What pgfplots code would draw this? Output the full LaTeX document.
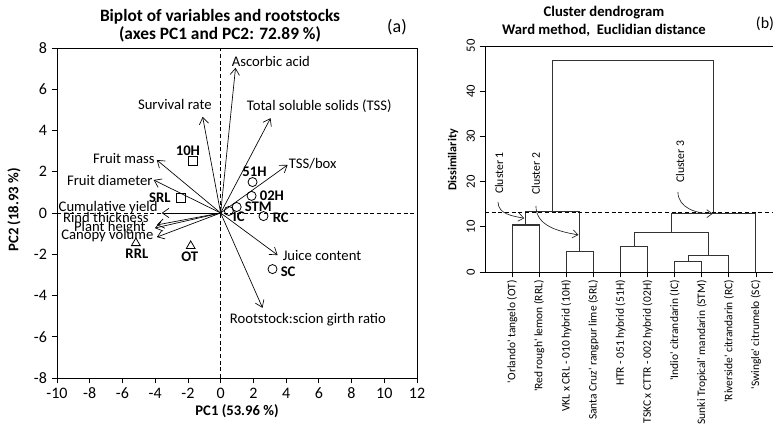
\documentclass[border=0pt]{standalone}
\usepackage{fontspec}
\setmainfont{Carlito}
\usepackage{pgfplots}
\pgfplotsset{compat=1.18}
\usetikzlibrary{arrows.meta}
\newcommand\fs[1]{\fontsize{#1}{#1}\selectfont}
\newcommand\q{\textquotesingle}
\tikzset{
  arr/.style={black, line width=0.5pt, -{Straight Barb[length=5pt,width=7pt]}},
  lab/.style={font=\fs{11}, inner sep=0pt},
  plab/.style={font=\bfseries\fs{11}, inner sep=0pt},
  dend/.style={black!80, line width=0.8pt, mark=none},
  carr/.style={black!85, line width=0.5pt, -{Straight Barb[length=4pt,width=6pt]}}}
\begin{document}
\begin{tikzpicture}
\path[use as bounding box] (0,0) rectangle (579.75pt,320.25pt);
% ---------------- Left panel: biplot ----------------
\begin{axis}[at={(42.75pt,36.75pt)}, anchor=south west,
  width=270pt, height=247.5pt, scale only axis,
  xmin=-10, xmax=12, ymin=-8, ymax=8,
  xtick={-10,-8,...,12}, ytick={-8,-6,...,8},
  tick align=outside, xtick pos=bottom, ytick pos=left, major tick length=4pt,
  /pgf/number format/assume math mode=true,
  tick label style={font=\fs{12}},
  axis line style={black, line width=0.6pt}, tick style={black, line width=0.6pt},
  clip=false]
\addplot[densely dashed, black, line width=0.5pt] coordinates {(0,-8) (0,8)};
\addplot[densely dashed, black, line width=0.5pt] coordinates {(-10,0) (12,0)};
% variable vectors
\addplot[arr] coordinates {(0,0) (0.91,7.04)};
\addplot[arr] coordinates {(0,0) (3.05,4.60)};
\addplot[arr] coordinates {(0,0) (4.09,2.33)};
\addplot[arr] coordinates {(0,0) (3.48,-2.04)};
\addplot[arr] coordinates {(0,0) (2.56,-4.60)};
\addplot[arr] coordinates {(0,0) (-1.10,4.66)};
\addplot[arr] coordinates {(0,0) (-3.90,2.57)};
\addplot[arr] coordinates {(0,0) (-4.09,1.60)};
\addplot[arr] coordinates {(0,0) (-3.60,0.00)};
\addplot[arr] coordinates {(0,0) (-3.90,-0.58)};
\addplot[arr] coordinates {(0,0) (-4.02,-0.73)};
\addplot[arr] coordinates {(0,0) (-3.90,-1.17)};
% rootstocks
\addplot[only marks, mark=square, mark size=3.4pt, black, line width=0.6pt] coordinates {(-1.70,2.52) (-2.44,0.73)};
\addplot[only marks, mark=triangle, mark size=3.8pt, black, line width=0.6pt] coordinates {(-5.18,-1.46) (-1.83,-1.60)};
\addplot[only marks, mark=o, mark size=3.4pt, black, line width=0.6pt] coordinates {(1.95,1.50) (1.89,0.83) (0.98,0.29) (0.50,0.10) (2.62,-0.15) (3.17,-2.72)};
% vector labels
\node[lab, anchor=west] at (axis cs:0.67,7.33) {Ascorbic acid};
\node[lab, anchor=west] at (axis cs:1.59,5.19) {Total soluble solids (TSS)};
\node[lab, anchor=west] at (axis cs:4.15,2.38) {TSS/box};
\node[lab, anchor=west] at (axis cs:3.78,-2.04) {Juice content};
\node[lab, anchor=west] at (axis cs:0.55,-5.15) {Rootstock:scion girth ratio};
\node[lab] at (axis cs:-2.80,5.24) {Survival rate};
\node[lab, anchor=east] at (axis cs:-4.02,2.62) {Fruit mass};
\node[lab, anchor=east] at (axis cs:-4.15,1.60) {Fruit diameter};
\node[lab, anchor=east] at (axis cs:-3.84,0.24) {Cumulative yield};
\node[lab, anchor=east] at (axis cs:-4.39,-0.24) {Rind thickness};
\node[lab, anchor=east] at (axis cs:-4.57,-0.73) {Plant height};
\node[lab, anchor=east] at (axis cs:-4.09,-1.12) {Canopy volume};
% rootstock labels
\node[plab] at (axis cs:-2.00,3.00) {10H};
\node[plab] at (axis cs:-3.72,0.73) {SRL};
\node[plab] at (axis cs:-5.12,-1.99) {RRL};
\node[plab] at (axis cs:-1.89,-2.14) {OT};
\node[plab] at (axis cs:2.07,1.99) {51H};
\node[plab, anchor=west] at (axis cs:2.38,0.83) {02H};
\node[plab, anchor=west] at (axis cs:1.46,0.29) {STM};
\node[plab, anchor=west] at (axis cs:0.73,-0.19) {IC};
\node[plab, anchor=west] at (axis cs:3.17,-0.24) {RC};
\node[plab, anchor=west] at (axis cs:3.66,-2.86) {SC};
\end{axis}
% ---------------- Right panel: dendrogram ----------------
\begin{axis}[at={(363.75pt,116.25pt)}, anchor=south west,
  width=218.25pt, height=169.5pt, scale only axis,
  xmin=0, xmax=10.74, ymin=0, ymax=50,
  xtick={1,...,10}, ytick={0,10,...,50},
  xticklabels={{\q Orlando\q{} tangelo (OT)},{\q Red rough\q{} lemon (RRL)},{VKL x CRL - 010 hybrid (10H)},{Santa Cruz\q{} rangpur lime (SRL)},{HTR - 051 hybrid (51H)},{TSKC x CTTR - 002 hybrid (02H)},{\q Indio\q{} citrandarin (IC)},{Sunki Tropical\q{} mandarin (STM)},{\q Riverside\q{} citrandarin (RC)},{\q Swingle\q{} citrumelo (SC)}},
  tick align=outside, xtick pos=bottom, ytick pos=left, major tick length=4pt,
  x tick label style={rotate=90, anchor=east, font=\fs{8.6}, inner sep=2pt},
  y tick label style={rotate=90, anchor=south, font=\fs{9.5}},
  /pgf/number format/assume math mode=true,
  axis line style={black, line width=0.6pt}, tick style={black, line width=0.6pt},
  clip=false]
\addplot[dend] coordinates {(1,0) (1,10.4) (2,10.4) (2,0)};
\addplot[dend] coordinates {(3,0) (3,4.6) (4,4.6) (4,0)};
\addplot[dend] coordinates {(1.5,10.4) (1.5,13.4) (3.5,13.4) (3.5,4.6)};
\addplot[dend] coordinates {(5,0) (5,5.6) (6,5.6) (6,0)};
\addplot[dend] coordinates {(7,0) (7,2.4) (8,2.4) (8,0)};
\addplot[dend] coordinates {(7.5,2.4) (7.5,3.6) (9,3.6) (9,0)};
\addplot[dend] coordinates {(5.5,5.6) (5.5,8.7) (8.25,8.7) (8.25,3.6)};
\addplot[dend] coordinates {(6.875,8.7) (6.875,12.9) (10,12.9) (10,0)};
\addplot[dend] coordinates {(2.5,13.4) (2.5,46.7) (8.4375,46.7) (8.4375,12.9)};
\addplot[densely dashed, black, line width=0.5pt] coordinates {(0,13.1) (10.74,13.1)};
\node[rotate=90, font=\fs{8.8}] at (axis cs:0.52,21.9) {Cluster 1};
\node[rotate=90, font=\fs{8.8}] at (axis cs:1.88,21.7) {Cluster 2};
\node[rotate=90, font=\fs{8.8}] at (axis cs:7.20,24.4) {Cluster 3};
\draw[carr] (axis cs:0.48,15.5) to[out=-90, in=170] (axis cs:1.45,11.9);
\draw[carr] (axis cs:1.88,14.6) to[out=-90, in=170] (axis cs:3.45,8.2);
\draw[carr] (axis cs:7.12,17.7) to[out=-90, in=180] (axis cs:8.40,12.9);
\end{axis}
% ---------------- Titles and labels ----------------
\begin{scope}[x=0.75pt, y=-0.75pt, shift={(0pt,320.25pt)}]
\node[font=\bfseries\fs{13}] at (220,17) {Biplot of variables and rootstocks};
\node[font=\bfseries\fs{13}] at (220,34) {(axes PC1 and PC2: 72.89 \%)};
\node[font=\fs{13.5}] at (397,27) {(a)};
\node[font=\bfseries\fs{11}, rotate=90] at (14,210) {PC2 (18.93 \%)};
\node[font=\bfseries\fs{11}] at (237,411) {PC1 (53.96 \%)};
\node[font=\bfseries\fs{11}] at (604,13) {Cluster dendrogram};
\node[font=\bfseries\fs{11}] at (604,30) {Ward method,\ \ Euclidian distance};
\node[font=\fs{12}] at (765,24) {(b)};
\node[font=\bfseries\fs{9}, rotate=90] at (453,160) {Dissimilarity};
\end{scope}
\end{tikzpicture}
\end{document}
